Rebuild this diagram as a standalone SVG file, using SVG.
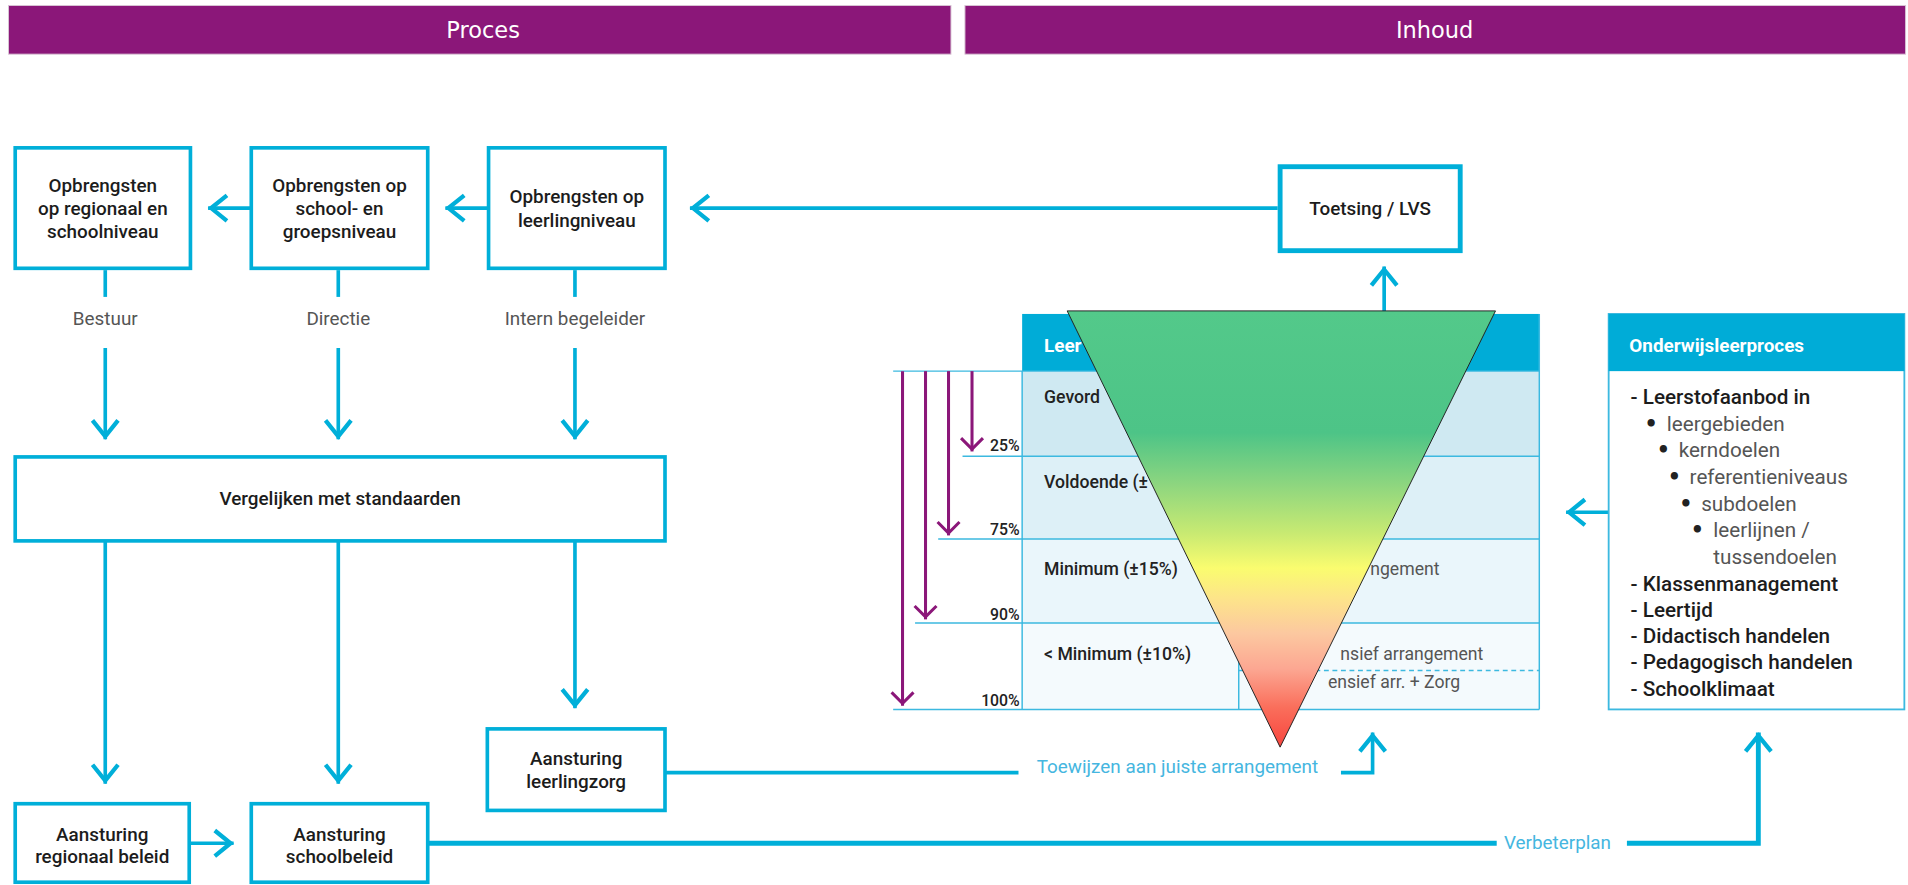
<svg xmlns="http://www.w3.org/2000/svg" width="1908" height="885" viewBox="0 0 1908 885">
<defs>
<style>
.banner{fill:#8b1779;stroke:#d8c4d4;stroke-width:0.8}
.bt{font-family:'DejaVu Sans','Liberation Sans',sans-serif;font-size:18.5px;fill:#ffffff;text-anchor:middle}
.box{fill:#ffffff;stroke:#00afd9;stroke-width:3}
.t{font-family:Roboto,'Liberation Sans',sans-serif;font-size:15.5px;font-weight:500;fill:#1c1c1c;text-anchor:middle}
.g{font-family:Roboto,'Liberation Sans',sans-serif;font-size:15.5px;font-weight:400;fill:#555555;text-anchor:middle}
.c{font-family:Roboto,'Liberation Sans',sans-serif;font-size:15.5px;font-weight:400;fill:#45b6e0}
.ln{fill:none;stroke:#00afd9;stroke-width:3}
.lnb{fill:none;stroke:#00afd9;stroke-width:4}
.pl{fill:none;stroke:#8b1779;stroke-width:2.5}
.tl{fill:none;stroke:#3cb9e0;stroke-width:1.2}
.tt{font-family:Roboto,'Liberation Sans',sans-serif;font-size:14.5px;font-weight:500;fill:#222222}
.tr{font-family:Roboto,'Liberation Sans',sans-serif;font-size:14.5px;font-weight:400;fill:#555555}
.pc{font-family:Roboto,'Liberation Sans',sans-serif;font-size:13px;font-weight:500;fill:#222222;text-anchor:end}
.hd{font-family:Roboto,'Liberation Sans',sans-serif;font-size:15.5px;font-weight:700;fill:#ffffff}
.li{font-family:Roboto,'Liberation Sans',sans-serif;font-size:17px;font-weight:500;fill:#1c1c1c}
.sl{font-family:Roboto,'Liberation Sans',sans-serif;font-size:17px;font-weight:400;fill:#555555}
.bu{font-family:'DejaVu Sans','Liberation Sans',sans-serif;font-size:17px;font-weight:700;fill:#222222}
</style>
<marker id="ah" viewBox="-16 -13 20 26" markerWidth="20" markerHeight="26" refX="2.5" refY="0" orient="auto" markerUnits="userSpaceOnUse">
<path d="M-13,-10.5 L0,0 L-13,10.5" fill="none" stroke="#00afd9" stroke-width="3.5"/>
</marker>
<marker id="ahp" viewBox="-12 -11 15 22" markerWidth="15" markerHeight="22" refX="2" refY="0" orient="auto" markerUnits="userSpaceOnUse">
<path d="M-9,-9 L0,0 L-9,9" fill="none" stroke="#8b1779" stroke-width="2.5"/>
</marker>
<linearGradient id="tri" x1="0" y1="255" x2="0" y2="614" gradientUnits="userSpaceOnUse">
<stop offset="0" stop-color="#53c98a"/>
<stop offset="0.28" stop-color="#4dc487"/>
<stop offset="0.4" stop-color="#8ed67f"/>
<stop offset="0.51" stop-color="#c8ea72"/>
<stop offset="0.59" stop-color="#fafc6f"/>
<stop offset="0.66" stop-color="#fde48a"/>
<stop offset="0.74" stop-color="#fcc8a0"/>
<stop offset="0.82" stop-color="#fca792"/>
<stop offset="0.91" stop-color="#fa6e5b"/>
<stop offset="1" stop-color="#f8453e"/>
</linearGradient>
</defs>
<rect x="0" y="0" width="1908" height="885" fill="#ffffff"/>
<g transform="scale(1.21684)">
<g id="banner-proces">
<rect class="banner" x="7" y="4.5" width="774.5" height="40"/>
<text class="bt" x="397" y="31.5">Proces</text>
</g>
<g id="banner-inhoud">
<rect class="banner" x="793" y="4.5" width="773" height="40"/>
<text class="bt" x="1179" y="31.5">Inhoud</text>
</g>

<g id="connectors">
<path class="ln" d="M401.5,171 H366" marker-end="url(#ah)"/>
<path class="ln" d="M206.5,171 H171" marker-end="url(#ah)"/>
<path class="ln" d="M1050,171 H567" marker-end="url(#ah)"/>
<path class="ln" d="M86.5,222 V244"/>
<path class="ln" d="M278,222 V244"/>
<path class="ln" d="M472.5,222 V244"/>
<path class="ln" d="M86.5,286 V361" marker-end="url(#ah)"/>
<path class="ln" d="M278,286 V361" marker-end="url(#ah)"/>
<path class="ln" d="M472.5,286 V361" marker-end="url(#ah)"/>
<path class="ln" d="M86.5,445 V644" marker-end="url(#ah)"/>
<path class="ln" d="M278,445 V644" marker-end="url(#ah)"/>
<path class="ln" d="M472.5,445 V582" marker-end="url(#ah)"/>
<path class="ln" d="M156,693 H192" marker-end="url(#ah)"/>
<path class="lnb" d="M352,693 H1230"/>
<path class="lnb" d="M1337,693 H1445 V602" marker-end="url(#ah)"/>
<path class="ln" d="M547,635 H837"/>
<path class="ln" d="M1102,635 H1128 V602" marker-end="url(#ah)"/>
<path class="ln" d="M1137.5,256 V219" marker-end="url(#ah)"/>
<path class="ln" d="M1322,421 H1287" marker-end="url(#ah)"/>
<text class="c" x="852" y="635.5">Toewijzen aan juiste arrangement</text>
<text class="c" x="1236" y="698">Verbeterplan</text>
<text class="g" x="86.5" y="267">Bestuur</text>
<text class="g" x="278" y="267">Directie</text>
<text class="g" x="472.5" y="267">Intern begeleider</text>
</g>

<g id="opbrengsten-regionaal">
<rect class="box" x="12.5" y="121.5" width="144" height="99"/>
<text class="t" x="84.5" y="157.5">Opbrengsten</text>
<text class="t" x="84.5" y="176.7">op regionaal en</text>
<text class="t" x="84.5" y="195.9">schoolniveau</text>
</g>
<g id="opbrengsten-school">
<rect class="box" x="206.5" y="121.5" width="145" height="99"/>
<text class="t" x="279" y="157.5">Opbrengsten op</text>
<text class="t" x="279" y="176.7">school- en</text>
<text class="t" x="279" y="195.9">groepsniveau</text>
</g>
<g id="opbrengsten-leerling">
<rect class="box" x="401.5" y="121.5" width="145" height="99"/>
<text class="t" x="474" y="167">Opbrengsten op</text>
<text class="t" x="474" y="186.3">leerlingniveau</text>
</g>
<g id="toetsing">
<rect class="box" style="stroke-width:4" x="1052" y="137" width="148" height="69"/>
<text class="t" x="1126" y="177">Toetsing / LVS</text>
</g>
<g id="vergelijken">
<rect class="box" x="12.5" y="375.5" width="534" height="69"/>
<text class="t" x="279.5" y="415">Vergelijken met standaarden</text>
</g>
<g id="aansturing-leerlingzorg">
<rect class="box" x="400.5" y="599" width="146" height="67"/>
<text class="t" x="473.5" y="628.7">Aansturing</text>
<text class="t" x="473.5" y="647.8">leerlingzorg</text>
</g>
<g id="aansturing-regionaal">
<rect class="box" x="12.5" y="660.5" width="143" height="64.5"/>
<text class="t" x="84" y="691">Aansturing</text>
<text class="t" x="84" y="709.5">regionaal beleid</text>
</g>
<g id="aansturing-school">
<rect class="box" x="206.5" y="660.5" width="145" height="64.5"/>
<text class="t" x="279" y="691">Aansturing</text>
<text class="t" x="279" y="709.5">schoolbeleid</text>
</g>

<g id="tabel">
<rect x="840" y="258" width="425" height="47" fill="#00acd7"/>
<rect x="840" y="305" width="425" height="70" fill="#cfe9f2"/>
<rect x="840" y="375" width="425" height="68" fill="#ddf0f7"/>
<rect x="840" y="443" width="425" height="69" fill="#eaf6fb"/>
<rect x="840" y="512" width="425" height="71" fill="#f4fafd"/>
<path class="tl" d="M734,305 H1265 M791,375 H1265 M771,443 H1265 M752,512 H1265 M734,583 H1265 M840,305 V583 M1265,258 V583 M1018,512 V583"/>
<path class="tl" d="M1018,551 H1265" stroke-dasharray="4 3"/>
<text class="hd" x="858" y="289">Leer</text>
<text class="tt" x="858" y="331.5">Gevord</text>
<text class="tt" x="858" y="401">Voldoende (±</text>
<text class="tt" x="858" y="472.6">Minimum (±15%)</text>
<text class="tt" x="858" y="542">&lt; Minimum (±10%)</text>
<text class="tr" x="1183" y="472.6" text-anchor="end">ngement</text>
<text class="tr" x="1219" y="542" text-anchor="end">nsief arrangement</text>
<text class="tr" x="1200" y="565.5" text-anchor="end">ensief arr. + Zorg</text>
<path class="pl" d="M741.7,305 V580" marker-end="url(#ahp)"/>
<path class="pl" d="M760.6,305 V509" marker-end="url(#ahp)"/>
<path class="pl" d="M779.5,305 V440" marker-end="url(#ahp)"/>
<path class="pl" d="M798.8,305 V371" marker-end="url(#ahp)"/>
<text class="pc" x="838" y="371">25%</text>
<text class="pc" x="838" y="440">75%</text>
<text class="pc" x="838" y="509.5">90%</text>
<text class="pc" x="838" y="580">100%</text>
</g>

<g id="driehoek">
<polygon points="877,255.5 1229,255.5 1052,614" fill="url(#tri)" stroke="#222222" stroke-width="0.8"/>
</g>

<g id="onderwijsleerproces">
<rect x="1322" y="258" width="243" height="325" fill="#ffffff" stroke="#3cb9e0" stroke-width="1.5"/>
<rect x="1322" y="258" width="243" height="47" fill="#00acd7"/>
<text class="hd" x="1339" y="289">Onderwijsleerproces</text>
<text class="li" x="1340" y="332">- Leerstofaanbod in</text>
<text class="bu" x="1351.5" y="354.2">•</text><text class="sl" x="1369.7" y="354.2">leergebieden</text>
<text class="bu" x="1361.5" y="375.3">•</text><text class="sl" x="1379.5" y="375.3">kerndoelen</text>
<text class="bu" x="1370.5" y="397.8">•</text><text class="sl" x="1388.5" y="397.8">referentieniveaus</text>
<text class="bu" x="1380" y="420">•</text><text class="sl" x="1398" y="420">subdoelen</text>
<text class="bu" x="1389.5" y="441.6">•</text><text class="sl" x="1408" y="441.6">leerlijnen /</text>
<text class="sl" x="1408" y="463.5">tussendoelen</text>
<text class="li" x="1340" y="485.4">- Klassenmanagement</text>
<text class="li" x="1340" y="506.8">- Leertijd</text>
<text class="li" x="1340" y="528.7">- Didactisch handelen</text>
<text class="li" x="1340" y="550">- Pedagogisch handelen</text>
<text class="li" x="1340" y="572">- Schoolklimaat</text>
</g>
</g>
</svg>
